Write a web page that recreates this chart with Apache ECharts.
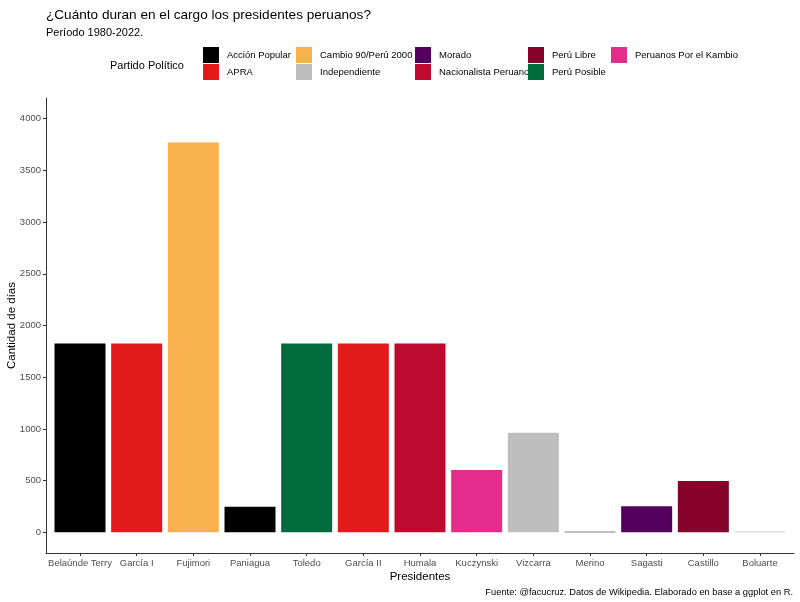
<!DOCTYPE html>
<html>
<head>
<meta charset="utf-8">
<script src="https://cdn.jsdelivr.net/npm/echarts@6/dist/echarts.min.js"></script>
<style>html,body{margin:0;padding:0;background:#fff;}#c{width:800px;height:602px;}</style>
</head>
<body>
<div id="c"></div>
<script>
const presidentes = ['Belaúnde Terry','García I','Fujimori','Paniagua','Toledo','García II','Humala','Kuczynski','Vizcarra','Merino','Sagasti','Castillo','Boluarte'];
const dias = [1826, 1826, 3769, 248, 1826, 1826, 1826, 603, 963, 5, 253, 497, 8];
const partidoDe = ['Acción Popular','APRA','Cambio 90/Perú 2000','Acción Popular','Perú Posible','APRA','Nacionalista Peruano','Peruanos Por el Kambio','Independiente','Acción Popular','Morado','Perú Libre','Independiente'];
const partidos = ['Acción Popular','APRA','Cambio 90/Perú 2000','Independiente','Morado','Nacionalista Peruano','Perú Libre','Perú Posible','Peruanos Por el Kambio'];
const colores = ['#000000','#E31A1C','#F9B04F','#BEBEBE','#54005F','#BF0A30','#85002A','#006B3C','#E62C8B'];
const yTicks = [0, 500, 1000, 1500, 2000, 2500, 3000, 3500, 4000];
const legendCols = [['Acción Popular','APRA'],['Cambio 90/Perú 2000','Independiente'],['Morado','Nacionalista Peruano'],['Perú Libre','Perú Posible'],['Peruanos Por el Kambio']];
const legendLefts = [203, 296, 415, 528, 611];

const FONT = '"Liberation Sans", Arial, sans-serif';
const colorOf = p => colores[partidos.indexOf(p)];
const xIdx = presidentes.map((_, i) => i);

const chart = echarts.init(document.getElementById('c'), null, {renderer: 'canvas'});
const series = [{
  type: 'bar',
  barWidth: 51,
  data: dias.map((v, i) => ({value: [i, v], itemStyle: {color: colorOf(partidoDe[i])}})),
  silent: true
}].concat(partidos.map((p, k) => ({
  type: 'scatter', name: p, data: [], itemStyle: {color: colores[k], opacity: 1}
})));

chart.setOption({
  animation: false,
  backgroundColor: '#ffffff',
  textStyle: {fontFamily: FONT},
  title: [
    {text: '¿Cuánto duran en el cargo los presidentes peruanos?', left: 46, top: 8, padding: 0,
     textStyle: {fontFamily: FONT, fontSize: 13.6, fontWeight: 'normal', color: '#000'}},
    {text: 'Período 1980-2022.', left: 46, top: 27, padding: 0,
     textStyle: {fontFamily: FONT, fontSize: 11, fontWeight: 'normal', color: '#000'}},
    {text: 'Partido Político', left: 110, top: 60, padding: 0,
     textStyle: {fontFamily: FONT, fontSize: 11, fontWeight: 'normal', color: '#000'}},
    {text: 'Fuente: @facucruz. Datos de Wikipedia. Elaborado en base a ggplot en R.', right: 7, top: 588, padding: 0,
     textStyle: {fontFamily: FONT, fontSize: 9.3, fontWeight: 'normal', color: '#000'}}
  ],
  legend: legendCols.map((col, j) => ({
    data: col, left: legendLefts[j], top: 47, orient: 'vertical',
    icon: 'rect', itemWidth: 16, itemHeight: 16, itemGap: 1, padding: 0,
    selectedMode: false,
    itemStyle: {opacity: 1},
    textStyle: {fontFamily: FONT, fontSize: 9.5, color: '#000', padding: [0, 0, 0, 3]}
  })),
  grid: {left: 46, right: 6, top: 98, bottom: 49, containLabel: false, outerBoundsMode: 'none'},
  xAxis: {
    type: 'value', min: -0.6, max: 12.6,
    name: 'Presidentes', nameLocation: 'middle', nameGap: 18, nameMoveOverlap: false,
    nameTextStyle: {fontFamily: FONT, fontSize: 11.5, color: '#000', verticalAlign: 'top'},
    axisLine: {show: true, onZero: false, lineStyle: {color: '#333', width: 1}},
    axisTick: {show: true, customValues: xIdx, length: 3, lineStyle: {color: '#333'}},
    axisLabel: {customValues: xIdx, formatter: v => presidentes[Math.round(v)], fontSize: 9.5, color: '#4D4D4D', margin: 5, fontFamily: FONT},
    splitLine: {show: false}
  },
  yAxis: {
    type: 'value', min: -200, max: 4200,
    name: 'Cantidad de días', nameLocation: 'middle', nameGap: 28, nameMoveOverlap: false,
    nameTextStyle: {fontFamily: FONT, fontSize: 11.5, color: '#000'},
    axisLine: {show: true, onZero: false, lineStyle: {color: '#333', width: 1}},
    axisTick: {show: true, customValues: yTicks, length: 3, lineStyle: {color: '#333'}},
    axisLabel: {customValues: yTicks, formatter: v => String(v), fontSize: 9.5, color: '#4D4D4D', margin: 5, fontFamily: FONT},
    splitLine: {show: false}
  },
  series: series
});
</script>
</body>
</html>
